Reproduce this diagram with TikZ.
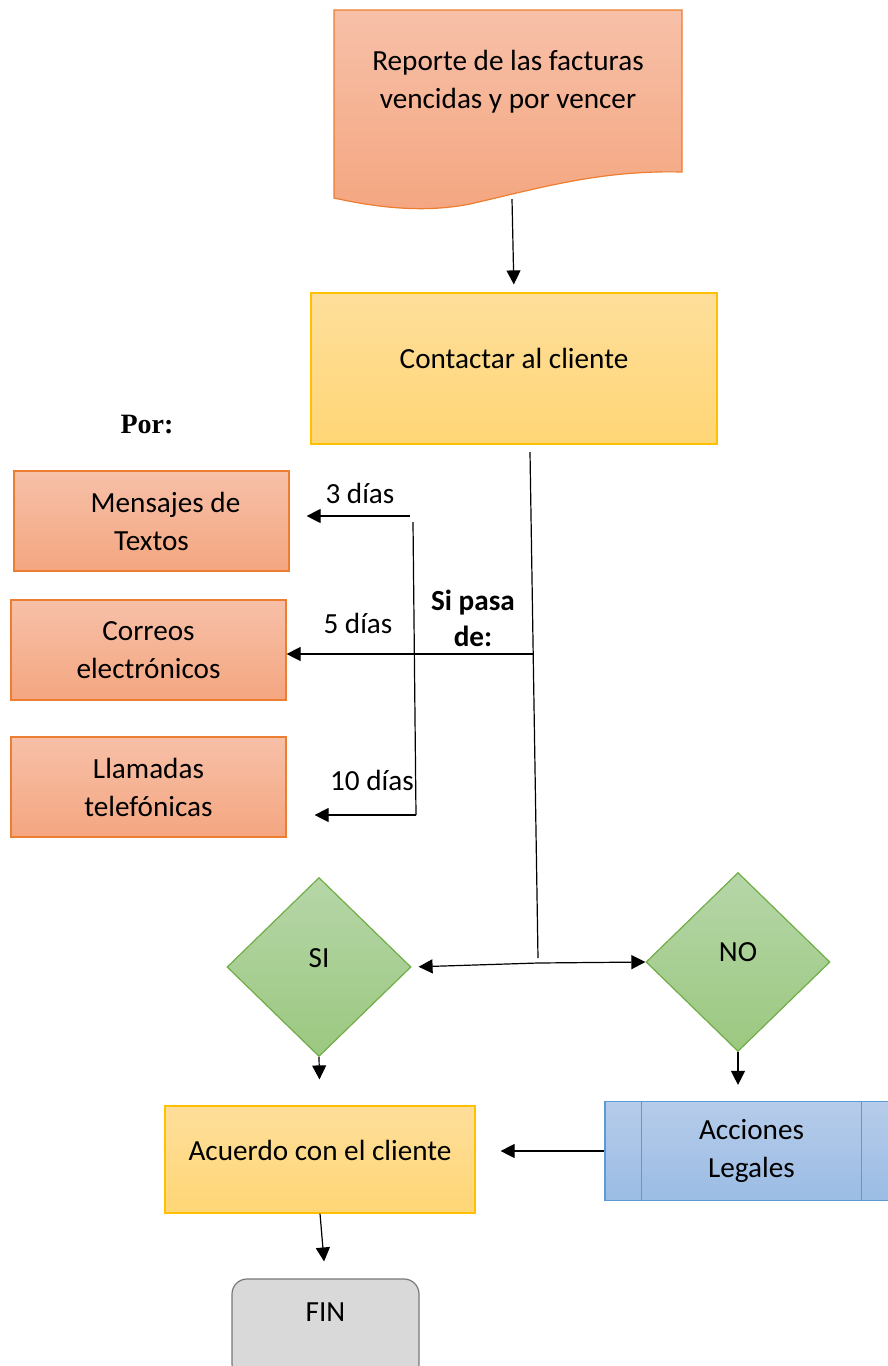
\documentclass[tikz,border=0pt]{standalone}
\usepackage{fontspec}
\setmainfont{Carlito}
\newfontfamily\porfont{Liberation Serif}
\usetikzlibrary{arrows.meta, positioning, shapes.geometric, calc}
\definecolor{orgline}{RGB}{237,125,49}
\definecolor{orgtop}{RGB}{247,192,168}
\definecolor{orgbot}{RGB}{244,166,128}
\definecolor{ylwline}{RGB}{255,192,0}
\definecolor{ylwtop}{RGB}{254,222,154}
\definecolor{ylwbot}{RGB}{255,214,118}
\definecolor{grnline}{RGB}{112,173,71}
\definecolor{grntop}{RGB}{182,214,168}
\definecolor{grnbot}{RGB}{155,200,128}
\definecolor{bluline}{RGB}{91,155,213}
\definecolor{blutop}{RGB}{182,204,234}
\definecolor{blubot}{RGB}{155,188,228}
\definecolor{finline}{RGB}{120,120,120}
\definecolor{fingray}{RGB}{217,217,217}
\tikzset{
  base/.style={align=center, font=\fontsize{14.6}{19}\selectfont, line width=0.6pt, inner sep=3pt},
  orgbox/.style={base, draw=orgline, top color=orgtop, bottom color=orgbot,
                 minimum width=137.5pt, minimum height=50pt},
  ylwbox/.style={base, draw=ylwline, top color=ylwtop, bottom color=ylwbot},
  grndiam/.style={base, diamond, draw=grnline, top color=grntop, bottom color=grnbot,
                  minimum width=92pt, minimum height=89.5pt, inner sep=0pt},
  blubox/.style={base, draw=bluline, top color=blutop, bottom color=blubot,
                 minimum width=146.5pt, minimum height=49.5pt},
  finbox/.style={base, draw=finline, fill=fingray, rounded corners=7.5pt,
                 minimum width=93.5pt, minimum height=50pt},
  flow/.style={-{Triangle[length=7pt, width=7pt]}, line width=0.6pt},
  plain/.style={line width=0.6pt},
  tag/.style={font=\fontsize{14.6}{18}\selectfont, inner sep=1pt},
}

\begin{document}
\begin{tikzpicture}[x=0.5pt, y=-0.5pt]
  \useasboundingbox (0,0) rectangle (888,1366);
  \clip (0,0) rectangle (888,1366);

  % ---------- report (document shape) ----------
  \path[draw=orgline, line width=0.6pt, top color=orgtop, bottom color=orgbot]
    (334,10) -- (682,10) -- (682,172)
    .. controls (600,170) and (540,188) .. (470,204)
    .. controls (420,214) and (370,206) .. (334,198) -- cycle;
  \node[base] (rep) at (508,82) {Reporte de las facturas\\vencidas y por vencer};
  \coordinate (rep-out) at (512,199);

  % ---------- contact ----------
  \node[ylwbox, minimum width=203pt, minimum height=75.5pt, text depth=10pt] (con)
    at (514,368.5) {Contactar al cliente};
  \draw[flow, shorten >=4pt] (rep-out) -- (con.north);

  % ---------- channels ----------
  \node[font=\porfont\bfseries\fontsize{14}{16}\selectfont] (por) at (147,425) {Por:};
  \node[orgbox] (mens) at (151.5,521) {\hspace*{14pt}Mensajes de\\Textos};
  \node[orgbox] (corr) at (148.5,650) {Correos\\electrónicos};
  \node[orgbox] (llam) at (148.5,787) {Llamadas\\telefónicas};

  \coordinate (v1top) at (530,452);
  \coordinate (v1bot) at (538,958);
  \coordinate (j5) at (533,654);
  \coordinate (v2top) at (413,522);
  \coordinate (v2bot) at (416,815);
  \coordinate (c3) at (410,516);

  \draw[plain] (v1top) -- (v1bot);
  \draw[plain] (v2top) -- (v2bot);
  \draw[flow] (j5) -- (j5 -| corr.east);
  \draw[flow, shorten >=8.5pt] (c3) -- (mens.east |- c3);
  \draw[flow, shorten >=14pt] (v2bot) -- (llam.east |- v2bot);

  \node[tag] (d3) at (360,493) {3 días};
  \node[tag] (d5) at (358,623) {5 días};
  \node[tag] (d10) at (372,780) {10 días};
  \node[tag, align=center, font=\bfseries\fontsize{14.6}{18}\selectfont] (pasa) at (473,618)
    {Si pasa\\de:};

  % ---------- decision ----------
  \node[grndiam, text depth=9pt] (si) at (319,967) {SI};
  \node[grndiam, text depth=10pt] (no) at (738,962) {NO};
  \coordinate (hj) at (538,963);
  \draw[flow, shorten >=3.5pt] (hj) -- (si.east);
  \draw[flow] (hj) -- (no.west);

  % ---------- outcomes ----------
  \node[ylwbox, minimum width=155pt, minimum height=53.5pt, text depth=9.5pt] (acu)
    at (320,1159.5) {Acuerdo con el cliente};
  \node[blubox] (acc) at (751.5,1151) {Acciones\\Legales};
  \draw[line width=0.6pt, draw=bluline]
    ($(acc.north west)+(37,0)$) -- ($(acc.south west)+(37,0)$)
    ($(acc.north east)-(37,0)$) -- ($(acc.south east)-(37,0)$);

  \draw[flow, shorten >=13pt] (si.south) -- (acu.north);
  \draw[flow, shorten >=8pt] (no.south) -- (no.south |- acc.north);
  \draw[flow, shorten >=12.5pt] (acc.west) -- (acu.east |- acc.west);

  % ---------- end ----------
  \node[finbox, label={[font=\fontsize{14.6}{19}\selectfont, yshift=8.5pt]center:FIN}] (fin)
    at (325.5,1329) {};
  \draw[flow, shorten >=8.5pt] (acu.south) -- (fin.north);

\end{tikzpicture}
\end{document}
